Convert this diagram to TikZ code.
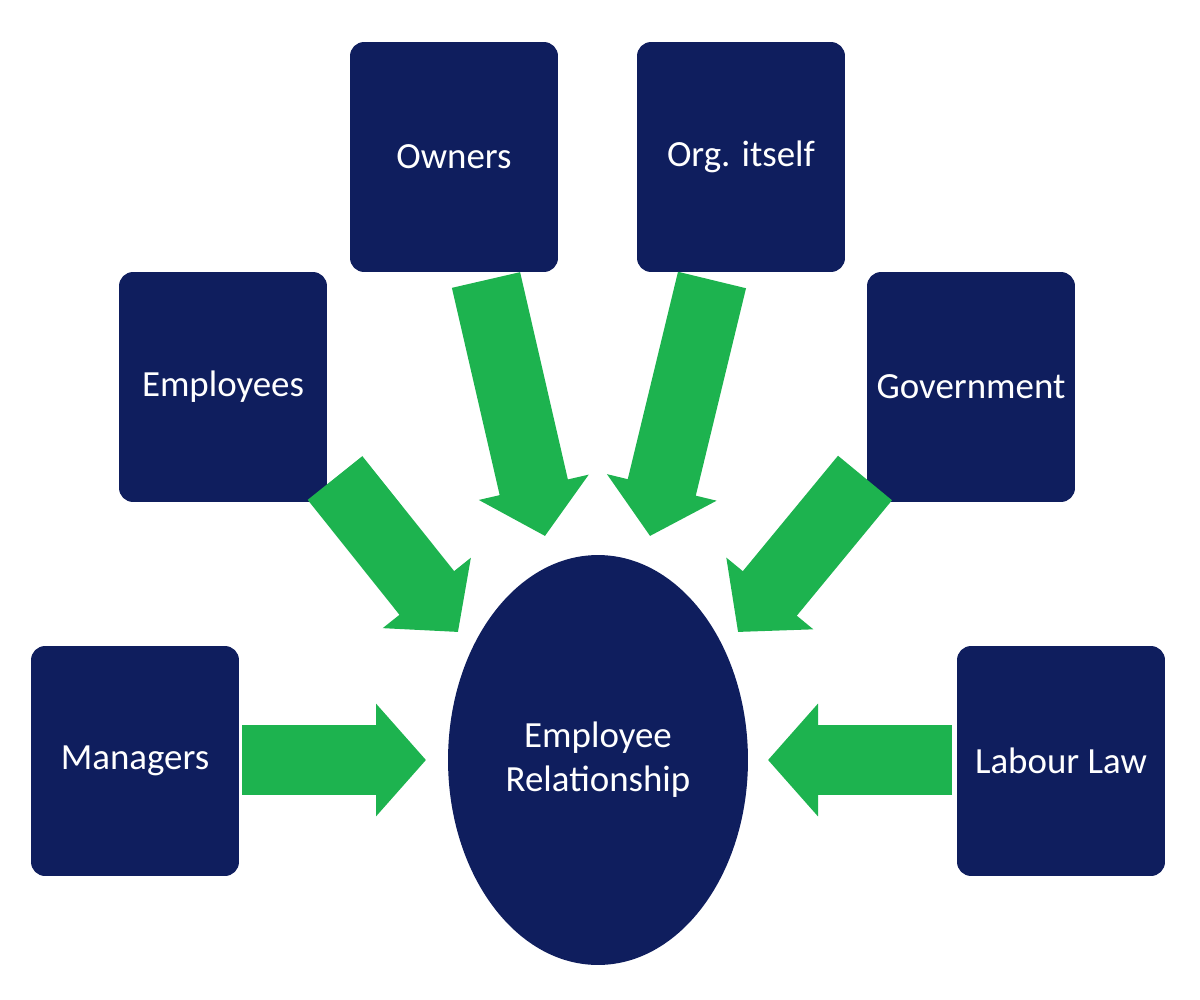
\documentclass[tikz,border=0pt]{standalone}
\usepackage{fontspec}
\setmainfont{Carlito}
\usetikzlibrary{arrows.meta,shapes.geometric}
\definecolor{navy}{HTML}{0F1E5E}
\definecolor{grn}{HTML}{1DB34F}
\begin{document}
\begin{tikzpicture}[x=0.02cm,y=-0.02cm,
  box/.style={fill=navy,rounded corners=8pt,minimum width=4.16cm,minimum height=4.6cm,text=white,font=\fontsize{21}{25}\selectfont,align=center},
  garrow/.style={grn,line width=1.4cm,-{Triangle[width=2.2cm,length=1.0cm]}}]
\useasboundingbox (0,0) rectangle (1200,1000);
\node[box] (own) at (454,157) {Owners};
\node[box] (org) at (741,157) {Org. itself};
\node[box] (emp) at (223,387) {Employees};
\node[box] (gov) at (971,387) {Government};
\node[box] (man) at (135,761) {Managers};
\node[box] (lab) at (1061,761) {Labour Law};
\node[ellipse,fill=navy,minimum width=6.0cm,minimum height=8.2cm,text=white,font=\fontsize{21}{25}\selectfont,align=center] (er) at (598,760) {Employee\\Relationship};
\coordinate (manS) at (242,760); \coordinate (manE) at (426,760);
\coordinate (labS) at (952,760); \coordinate (labE) at (768,760);
\coordinate (empS) at (335,478); \coordinate (empE) at (458,632);
\coordinate (govS) at (865,478); \coordinate (govE) at (738,632);
\coordinate (ownS) at (486,280); \coordinate (ownE) at (545,536);
\coordinate (orgS) at (712,280); \coordinate (orgE) at (650,536);
\draw[garrow] (manS) -- (manE);
\draw[garrow] (labS) -- (labE);
\draw[garrow] (empS) -- (empE);
\draw[garrow] (govS) -- (govE);
\draw[garrow] (ownS) -- (ownE);
\draw[garrow] (orgS) -- (orgE);
\end{tikzpicture}
\end{document}
